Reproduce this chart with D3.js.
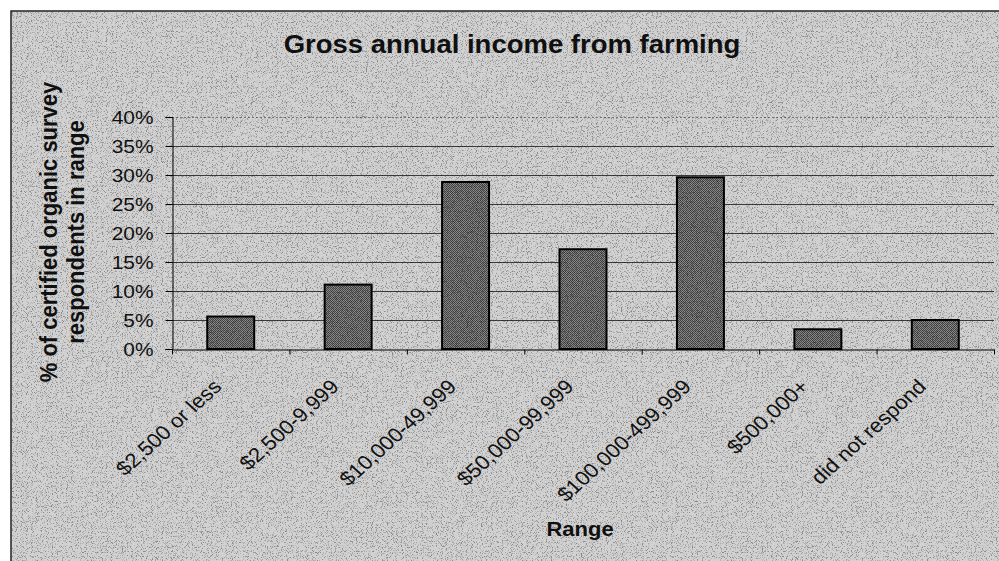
<!DOCTYPE html>
<html><head><meta charset="utf-8">
<script src="https://cdn.jsdelivr.net/npm/d3@7"></script>
<style>
html,body{margin:0;padding:0;background:#fff;}
svg{display:block;}
text{font-family:"Liberation Sans",Arial,sans-serif;fill:#111;}
</style>
</head><body>
<svg id="chart" width="999" height="561"></svg>
<script>
// Income ranges and share of respondents (%)
const categories = ["$2,500 or less", "$2,500-9,999", "$10,000-49,999", "$50,000-99,999", "$100,000-499,999", "$500,000+", "did not respond"];
const shares = [5.6, 11.1, 28.8, 17.2, 29.6, 3.4, 5.0];
const yTicks = [0, 5, 10, 15, 20, 25, 30, 35, 40];
const titleText = "Gross annual income from farming";
const yTitleLines = ["% of certified organic survey", "respondents in range"];
const xTitleText = "Range";

const S = 1.1; // horizontal stretch applied to the lettering
const svg = d3.select("#chart");
const defs = svg.append("defs");

// fine checker fill for the columns
const pat = defs.append("pattern").attr("id", "dots")
  .attr("width", 2).attr("height", 2).attr("patternUnits", "userSpaceOnUse");
pat.append("rect").attr("width", 2).attr("height", 2).attr("fill", "#8a8a8a");
pat.append("rect").attr("width", 1).attr("height", 1).attr("fill", "#454545");
pat.append("rect").attr("x", 1).attr("y", 1).attr("width", 1).attr("height", 1).attr("fill", "#454545");

// speckled print grain laid over the chart area
const grain = defs.append("filter").attr("id", "grain")
  .attr("x", 0).attr("y", 0).attr("width", 1).attr("height", 1);
grain.append("feTurbulence").attr("type", "fractalNoise")
  .attr("baseFrequency", 1.2).attr("numOctaves", 1).attr("seed", 3).attr("result", "n");
grain.append("feColorMatrix").attr("in", "n").attr("type", "matrix")
  .attr("values", "0 0 0 0 0  0 0 0 0 0  0 0 0 0 0  5 0 0 0 -2.6");

// chart area
svg.append("rect").attr("x", 11).attr("y", 11).attr("width", 1000).attr("height", 560)
  .attr("fill", "#d2d2d2").attr("stroke", "#222").attr("stroke-width", 1.5);

const x = d3.scaleBand().domain(categories).range([172, 994]).paddingInner(0.6).paddingOuter(0.3);
const xEdges = d3.scaleLinear().domain([0, categories.length]).range([172, 994]);
const y = d3.scaleLinear().domain([0, 40]).range([349, 117]);

// gridlines
svg.append("g").selectAll("line").data(yTicks.filter(d => d > 0)).join("line")
  .attr("x1", 172).attr("x2", 994)
  .attr("y1", d => y(d) + 0.5).attr("y2", d => y(d) + 0.5)
  .attr("stroke", d => d === 40 ? "#777" : "#3c3c3c")
  .attr("stroke-width", 1)
  .attr("stroke-dasharray", d => d === 40 ? "2,2" : null);

// columns
svg.append("g").selectAll("rect").data(categories).join("rect")
  .attr("x", d => x(d)).attr("width", x.bandwidth())
  .attr("y", (d, i) => y(shares[i])).attr("height", (d, i) => y(0) - y(shares[i]))
  .attr("fill", "url(#dots)").attr("stroke", "#000").attr("stroke-width", 2);

// y axis
const yAxis = svg.append("g").attr("transform", "translate(172.5,0)")
  .call(d3.axisLeft(y).tickValues(yTicks).tickSize(7).tickPadding(0).tickFormat(d => d + "%"));
yAxis.select(".domain").attr("stroke", "#000");
yAxis.selectAll(".tick line").attr("stroke", "#000");
yAxis.selectAll(".tick text")
  .attr("x", -19 / S).attr("dy", "0.34em")
  .attr("transform", `scale(${S},1)`)
  .style("font-size", "19px").attr("fill", "#111");

// x axis with ticks between categories
const xAxis = svg.append("g").attr("transform", "translate(0,349.5)")
  .call(d3.axisBottom(xEdges).tickValues(d3.range(categories.length + 1)).tickSize(5).tickSizeOuter(0).tickFormat(""));
xAxis.select(".domain").attr("stroke", "#000");
xAxis.selectAll(".tick line").attr("stroke", "#000");

// category labels
svg.append("g").selectAll("text").data(categories).join("text")
  .attr("transform", d => `translate(${x(d) + x.bandwidth() / 2 - 8},388) scale(${S},1) rotate(-45)`)
  .attr("text-anchor", "end")
  .style("font-size", "20px")
  .text(d => d);

// titles
svg.append("text").attr("transform", `translate(512,53) scale(${S},1)`)
  .attr("text-anchor", "middle").style("font-size", "25px").style("font-weight", "bold")
  .text(titleText);

svg.append("g").selectAll("text").data(yTitleLines).join("text")
  .attr("transform", (d, i) => `translate(${57 + i * 27},232) scale(${S},1) rotate(-90)`)
  .attr("text-anchor", "middle").style("font-size", "22px").style("font-weight", "bold")
  .text(d => d);

svg.append("text").attr("transform", `translate(580,536) scale(${S},1)`)
  .attr("text-anchor", "middle").style("font-size", "20px").style("font-weight", "bold")
  .text(xTitleText);

// grain overlay
svg.append("rect").attr("x", 12).attr("y", 12).attr("width", 990).attr("height", 549)
  .attr("filter", "url(#grain)").attr("opacity", 0.35).style("pointer-events", "none");
</script>
</body></html>
